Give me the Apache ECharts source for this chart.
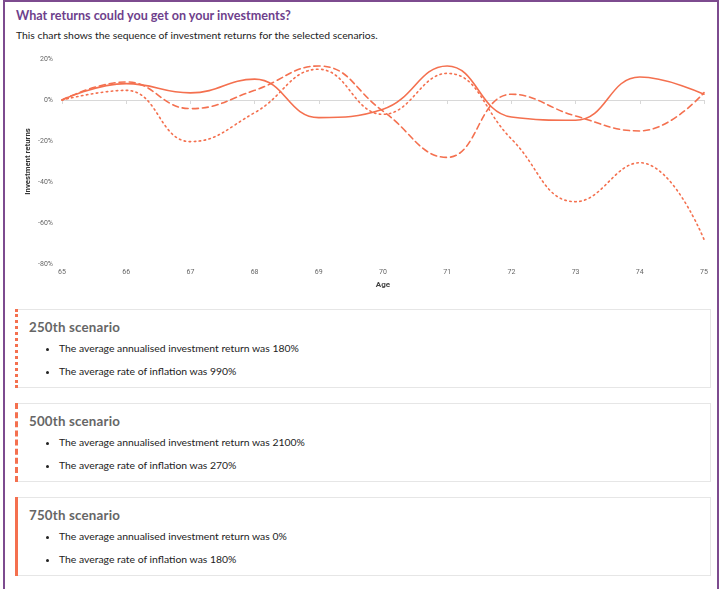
<!DOCTYPE html>
<html>
<head>
<meta charset="utf-8">
<script src="https://cdn.jsdelivr.net/npm/echarts@6/dist/echarts.min.js"></script>
<style>
  html, body { margin: 0; padding: 0; background: #fff; }
  body { width: 722px; height: 589px; position: relative; overflow: hidden; font-family: "Lato", "Noto Sans", sans-serif; }
  .frame { position: absolute; left: 3px; top: 0; width: 716px; height: 600px; border: 2px solid #7d4b8f; border-bottom: none; box-sizing: border-box; }
  h1 { position: absolute; left: 16px; top: 8px; margin: 0; font-size: 12.6px; font-weight: 700; color: #6e3f8c; }
  .sub { position: absolute; left: 16px; top: 29px; margin: 0; font-size: 10.4px; color: #222; }
  #chart { position: absolute; left: 0; top: 45px; width: 722px; height: 250px; }
  .card { position: absolute; left: 15px; width: 696px; height: 79px; border: 1px solid #e6e6e6; border-left: none; box-sizing: border-box; }
  .card .bar { position: absolute; left: 0; top: -1px; bottom: -1px; width: 0; }
  .card h2 { position: absolute; left: 14px; top: 9px; margin: 0; font-size: 13.3px; font-weight: 700; color: #666; letter-spacing: 0.2px; }
  .card ul { position: absolute; left: 26px; top: 33px; margin: 0; padding: 0 0 0 18px; font-size: 10.4px; color: #222; }
  .card li { margin: 0 0 12px 0; line-height: 11px; }
</style>
</head>
<body>
<div class="frame"></div>
<h1>What returns could you get on your investments?</h1>
<p class="sub">This chart shows the sequence of investment returns for the selected scenarios.</p>
<div id="chart"></div>

<div class="card" style="top:309px">
  <div class="bar" style="border-left:3px dotted #f4704f"></div>
  <h2>250th scenario</h2>
  <ul><li>The average annualised investment return was 180%</li><li>The average rate of inflation was 990%</li></ul>
</div>
<div class="card" style="top:403px">
  <div class="bar" style="border-left:3px dashed #f4704f"></div>
  <h2>500th scenario</h2>
  <ul><li>The average annualised investment return was 2100%</li><li>The average rate of inflation was 270%</li></ul>
</div>
<div class="card" style="top:497px">
  <div class="bar" style="border-left:3px solid #f4704f"></div>
  <h2>750th scenario</h2>
  <ul><li>The average annualised investment return was 0%</li><li>The average rate of inflation was 180%</li></ul>
</div>

<script>
// Ages along the horizontal axis
const ages = ['65', '66', '67', '68', '69', '70', '71', '72', '73', '74', '75'];
// Investment returns (%) for each scenario
const scenario250 = [0, 4.7, -20.3, -6.2, 15, -7, 13, -19, -49.6, -30.6, -68];
const scenario500 = [0, 8.8, -4.2, 4.7, 16.6, -5.4, -28, 2.8, -7.8, -15.1, 3.6];
const scenario750 = [0, 8, 3.5, 10.2, -8.6, -4.5, 16.6, -8.3, -9.9, 11.2, 2.8];
const yTicks = [-80, -60, -40, -20, 0, 20];

const lineColor = '#f4704f';
const chart = echarts.init(document.getElementById('chart'), null, { renderer: 'canvas' });

function lineSeries(name, data, type) {
  return {
    name: name,
    type: 'line',
    data: data,
    smooth: 0.45,
    symbol: 'none',
    lineStyle: { color: lineColor, width: 1.6, type: type, cap: 'round' },
    animation: false
  };
}

chart.setOption({
  animation: false,
  grid: { left: 62, right: 18, top: 14, bottom: 31 },
  xAxis: {
    type: 'category',
    data: ages,
    boundaryGap: false,
    name: 'Age',
    nameLocation: 'middle',
    nameGap: 15,
    nameTextStyle: { fontSize: 8, fontWeight: 'bold', color: '#444', fontFamily: 'Roboto' },
    axisLine: { lineStyle: { color: '#d8d8d8', width: 1 } },
    axisTick: { show: true, length: 4, lineStyle: { color: '#d8d8d8' } },
    axisLabel: { fontSize: 7, color: '#666', margin: 5, fontFamily: 'Roboto' },
    splitLine: { show: false }
  },
  yAxis: {
    type: 'value',
    min: yTicks[0],
    max: yTicks[yTicks.length - 1],
    interval: 20,
    name: 'Investment returns',
    nameLocation: 'middle',
    nameRotate: 90,
    nameGap: 30,
    nameMoveOverlap: false,
    nameTextStyle: { fontSize: 7.8, fontWeight: 'bold', color: '#333', fontFamily: 'Roboto' },
    axisLine: { show: false },
    axisTick: { show: false },
    splitLine: { show: false },
    axisLabel: { fontSize: 7, color: '#666', margin: 9, fontFamily: 'Roboto', formatter: v => v + '%' }
  },
  series: [
    lineSeries('250th scenario', scenario250, [1.5, 3.5]),
    lineSeries('500th scenario', scenario500, [6, 4]),
    lineSeries('750th scenario', scenario750, 'solid')
  ]
});
</script>
</body>
</html>
